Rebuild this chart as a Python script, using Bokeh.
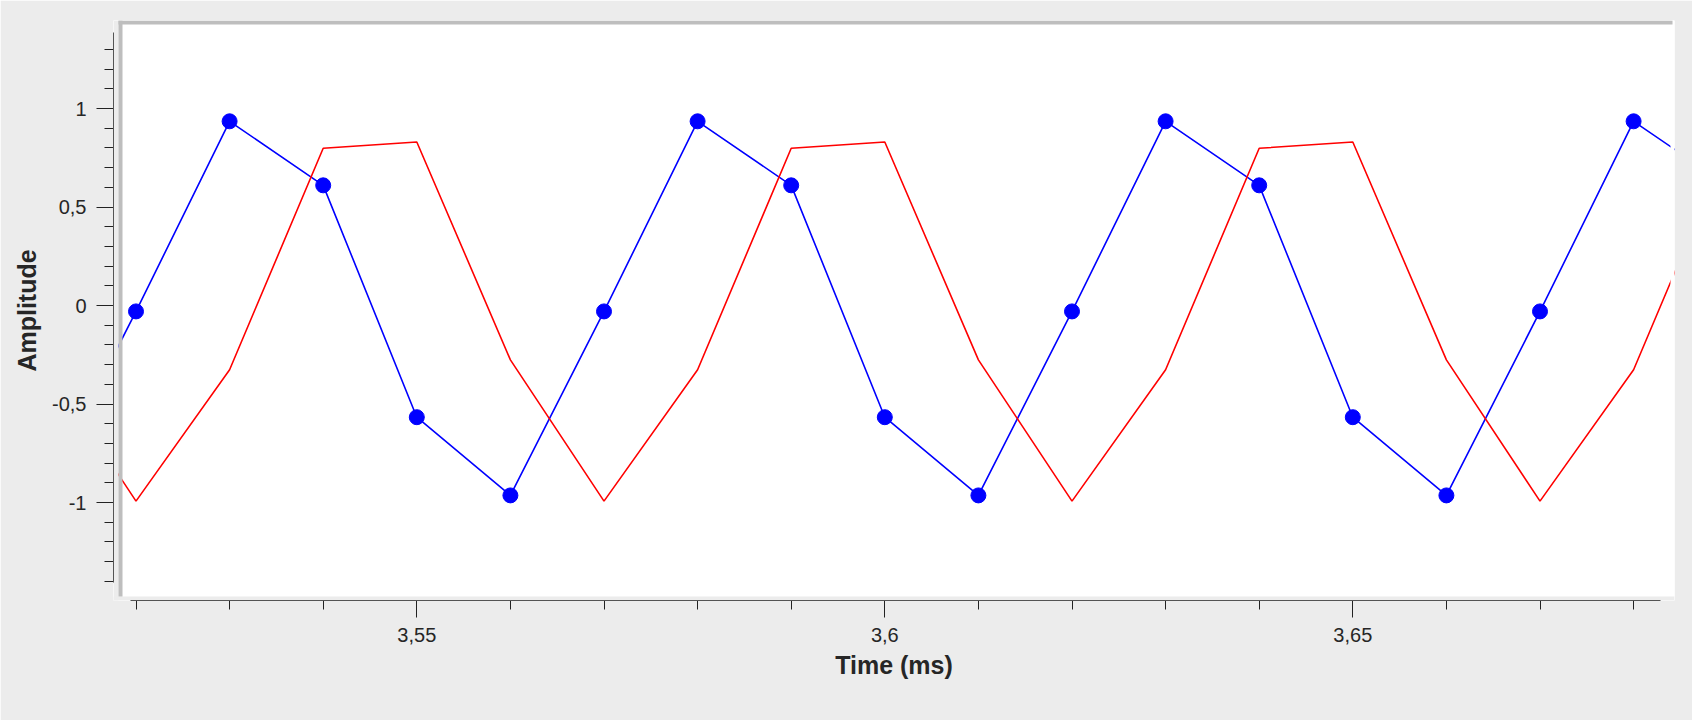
from bokeh.plotting import figure
from bokeh.models import (Range1d, LinearAxis, SingleIntervalTicker,
                          CustomJSTickFormatter, ColumnDataSource, BoxAnnotation)
from bokeh.embed import file_html
from bokeh.resources import INLINE

# ---- data ----
time_ms = [3.51, 3.52, 3.53, 3.54, 3.55, 3.56, 3.57, 3.58, 3.59, 3.60,
           3.61, 3.62, 3.63, 3.64, 3.65, 3.66, 3.67, 3.68, 3.69]
blue_vals = [-0.964, -0.030, 0.935, 0.610, -0.567, -0.964, -0.030, 0.935, 0.610, -0.567,
             -0.964, -0.030, 0.935, 0.610, -0.567, -0.964, -0.030, 0.935, 0.610]
red_vals = [-0.276, -0.993, -0.326, 0.798, 0.830, -0.276, -0.993, -0.326, 0.798, 0.830,
            -0.276, -0.993, -0.326, 0.798, 0.830, -0.276, -0.993, -0.326, 0.798]

x_label = "Time (ms)"
y_label = "Amplitude"
x_major_interval = 0.05
y_major_interval = 0.5

FONT = "Liberation Sans"
TEXT = "#262626"
BG = "#ececec"
FRAME_GRAY = "#bebebe"

# frame geometry (pixels) and scale
FL, FR, FT, FB = 113, 1674, 20, 600
X0_T, X0_PX, X_SCALE = 3.55, 416.3, 9360.0   # px per ms
Y0_PX, Y_SCALE = 305.0, 197.0                 # px per unit


def px_t(px):
    return X0_T + (px - X0_PX) / X_SCALE


def px_v(py):
    return (Y0_PX - py) / Y_SCALE


src = ColumnDataSource(dict(t=time_ms, b=blue_vals, r=red_vals))

p = figure(width=1692, height=720, output_backend="svg", toolbar_location=None,
           x_range=Range1d(px_t(FL), px_t(FR)), y_range=Range1d(px_v(FB), px_v(FT)),
           x_axis_location=None, y_axis_location=None,
           min_border_left=FL, min_border_right=1692 - FR, min_border_top=FT,
           min_border_bottom=720 - FB,
           border_fill_color=BG, background_fill_color="white", outline_line_color=None)
for g in p.grid:
    g.visible = False

fmt = CustomJSTickFormatter(code="return Number(tick.toFixed(4)).toString().replace('.', ',');")


def style(ax):
    ax.formatter = fmt
    ax.major_tick_out = 17
    ax.major_tick_in = 0
    ax.minor_tick_out = 9
    ax.minor_tick_in = 0
    ax.axis_line_color = "#222222"
    ax.major_tick_line_color = "#222222"
    ax.minor_tick_line_color = "#222222"
    ax.major_label_text_font = FONT
    ax.major_label_text_font_size = "20px"
    ax.major_label_text_color = TEXT
    ax.major_label_standoff = 10
    ax.axis_label_text_font = FONT
    ax.axis_label_text_font_style = "bold"
    ax.axis_label_text_font_size = "25px"
    ax.axis_label_text_color = TEXT


yaxis = LinearAxis(ticker=SingleIntervalTicker(interval=y_major_interval, num_minor_ticks=5),
                   bounds=(px_v(582), px_v(32)), axis_label=y_label)
style(yaxis)
yaxis.axis_label_standoff = 8

xaxis = LinearAxis(ticker=SingleIntervalTicker(interval=x_major_interval, num_minor_ticks=5),
                   bounds=(px_t(130), px_t(1660)), axis_label=x_label)
style(xaxis)
xaxis.axis_label_standoff = 6

p.add_layout(yaxis, "left")
p.add_layout(xaxis, "below")

p.line("t", "b", source=src, line_color="#0000ff", line_width=1.6)
p.scatter("t", "b", source=src, size=15, fill_color="#0000ff", line_color="#0000ff")
p.line("t", "r", source=src, line_color="#ff0000", line_width=1.6)


def box(color, **kw):
    p.add_layout(BoxAnnotation(fill_color=color, fill_alpha=1.0, line_color=None,
                               level="annotation", **kw))


# light inner edge of the sunken canvas (right side)
box("white", left=px_t(1670), top=px_v(20), bottom=px_v(596))
# gaps between the plotting canvas and the axes
box(BG, right=px_t(118))
box(BG, top=px_v(596))
# sunken frame (grey on top and left)
box(FRAME_GRAY, left=px_t(118), right=px_t(122), top=px_v(20), bottom=px_v(596))
box(FRAME_GRAY, left=px_t(118), right=px_t(1672), top=px_v(20), bottom=px_v(24))

open("out.html", "w").write(file_html(p, INLINE))
